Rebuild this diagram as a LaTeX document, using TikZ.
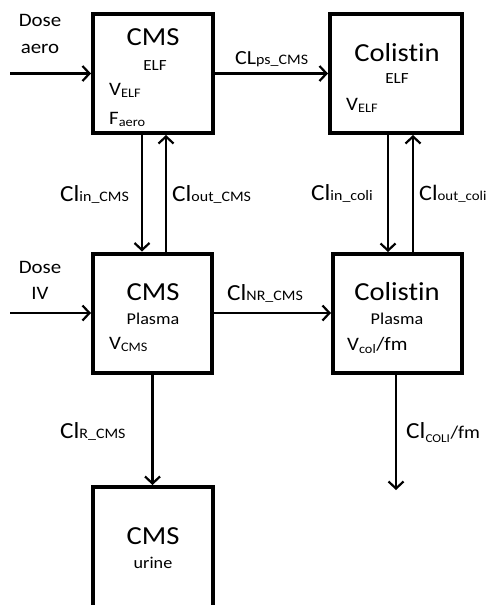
\documentclass[tikz,border=0pt]{standalone}
\usepackage{fontspec}
\setmainfont{Carlito}[FakeStretch=1.1,Ligatures={NoCommon}]
\usetikzlibrary{arrows.meta}
\newcommand{\fs}[1]{\fontsize{#1}{#1}\selectfont}
\newcommand{\cllab}[2]{{\fs{23}#1}{\fs{14.5}#2}}
\begin{document}
\begin{tikzpicture}[x=1pt,y=-1pt,
  comp/.style={draw,line width=4pt,minimum width=#1,minimum height=119pt,inner sep=0pt},
  arr/.style={line width=2.2pt,-{Straight Barb[length=7pt,width=15pt,line width=2.2pt]}},
  txt/.style={inner sep=0pt,anchor=base west},
  ctxt/.style={inner sep=0pt,anchor=base}]
\useasboundingbox[fill=white] (0,0) rectangle (490,605);
% compartments
\node[comp=120pt] (A) at (153,73.5) {};
\node[comp=132pt] (B) at (396,73.5) {};
\node[comp=119pt] (C) at (152.5,313) {};
\node[comp=129pt] (D) at (397.5,313.5) {};
\node[comp=120pt,minimum height=123pt] (E) at (153,548.5) {};
% box texts
\node[ctxt] (A1) at (153,45) {\fs{26}CMS};
\node[ctxt] (A2) at (155,70) {\fs{15.5}ELF};
\node[txt] (A3) at (109,95) {\fs{19}V\textsubscript{\fs{13}ELF}};
\node[txt] (A4) at (109,124) {\fs{19}F\textsubscript{\fs{13}aero}};
\node[ctxt] (B1) at (397,61) {\fs{26}Colistin};
\node[ctxt] (B2) at (397,83) {\fs{15.5}ELF};
\node[txt] (B3) at (346,110) {\fs{19}V\textsubscript{\fs{13}ELF}};
\node[ctxt] (C1) at (153,300) {\fs{26}CMS};
\node[ctxt] (C2) at (153,324) {\fs{16.5}Plasma};
\node[txt] (C3) at (109,349) {\fs{19}V\textsubscript{\fs{13}CMS}};
\node[ctxt] (D1) at (397,300) {\fs{26}Colistin};
\node[ctxt] (D2) at (397,324) {\fs{16.5}Plasma};
\node[txt] (D3) at (347,350) {\fs{19}V\textsubscript{\fs{13}col}/fm};
\node[ctxt] (E1) at (153,544) {\fs{26}CMS};
\node[ctxt] (E2) at (153,568) {\fs{16.5}urine};
% doses
\node[ctxt] (DA) at (40,27) {\fs{19}Dose};
\node[ctxt] (DA2) at (40,53) {\fs{19}aero};
\node[ctxt] (DI) at (40,273) {\fs{19}Dose};
\node[ctxt] (DI2) at (40,299) {\fs{19}IV};
\coordinate (da) at (10,73.5);
\coordinate (di) at (10,313);
\coordinate (ce) at (396,490);
% connectors
\draw[arr] (da) -- (da -| A.west);
\draw[arr] (di) -- (di -| C.west);
\draw[arr] (A.east) -- (A.east -| B.west);
\draw[arr] (C.east) -- (C.east -| D.west);
\draw[arr] ([xshift=-11pt]A.south) -- ([xshift=-11pt]A.south |- C.north);
\draw[arr] ([xshift=13pt]A.south |- C.north) -- ([xshift=13pt]A.south);
\draw[arr] ([xshift=-8pt]B.south) -- ([xshift=-8pt]B.south |- D.north);
\draw[arr] ([xshift=17pt]B.south |- D.north) -- ([xshift=17pt]B.south);
\draw[arr] (C.south) -- (C.south |- E.north);
\draw[arr] (ce |- D.south) -- (ce);
% connector labels
\node[txt] (L1) at (235,64) {{\fs{20}CL}{\fs{14.5}ps\_CMS}};
\node[txt] (L2) at (227,300) {\cllab{Cl}{NR\_CMS}};
\node[txt] (L3) at (60,201) {\cllab{Cl}{in\_CMS}};
\node[txt] (L4) at (172,201) {\cllab{Cl}{out\_CMS}};
\node[txt] (L5) at (311,200) {\cllab{Cl}{in\_coli}};
\node[txt] (L6) at (419,200) {{\fs{22}Cl}{\fs{13.5}out\_coli}};
\node[txt] (L7) at (60,438) {\cllab{Cl}{R\_CMS}};
\node[txt] (L8) at (406,438) {{\fs{23}Cl}\textsubscript{\fs{12}COLI}{\fs{18}/fm}};
\end{tikzpicture}
\end{document}
